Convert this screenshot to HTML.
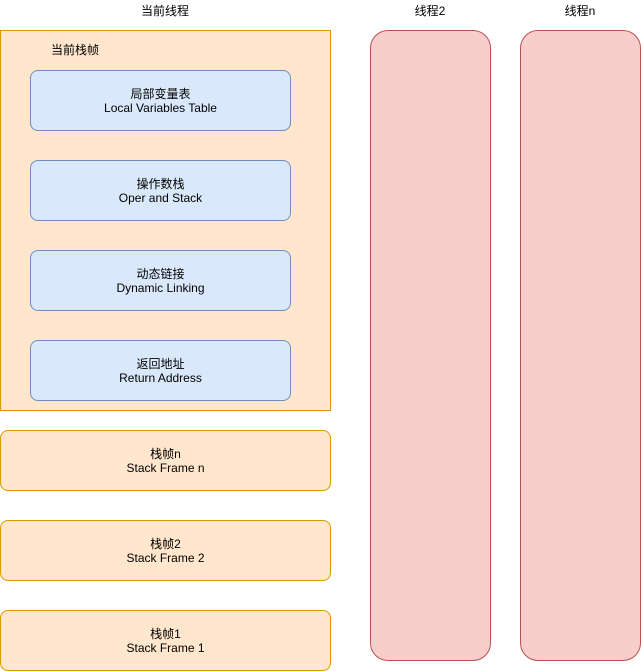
<!DOCTYPE html>
<html><head><meta charset="utf-8"><style>
html,body{margin:0;padding:0;background:#fff;}
body{width:641px;height:671px;position:relative;overflow:hidden;font-family:"Liberation Sans","Noto Sans CJK SC",sans-serif;font-size:12px;color:#000;}
.a{position:absolute;box-sizing:border-box;}
.t{position:absolute;text-align:center;line-height:14px;}
.box{display:flex;align-items:center;justify-content:center;text-align:center;line-height:14px;}
.blue{background:#dae8fc;border:1px solid #6c8ebf;border-radius:8px;}
.or{background:#ffe6cc;border:1px solid #d79b00;border-radius:8px;}
.red{background:#f8cecc;border:1px solid #b85450;border-radius:18px;}
</style></head><body>
<div class="t" style="left:115px;top:4px;width:100px;">当前线程</div>
<div class="t" style="left:380px;top:4px;width:100px;">线程2</div>
<div class="t" style="left:530px;top:4px;width:100px;">线程n</div>

<div class="a" style="left:0;top:30px;width:331px;height:381px;background:#ffe6cc;border:1px solid #d79b00;"></div>
<div class="t" style="left:40px;top:43px;width:70px;">当前栈帧</div>

<div class="a box blue" style="left:30px;top:70px;width:261px;height:61px;">局部变量表<br>Local Variables Table</div>
<div class="a box blue" style="left:30px;top:160px;width:261px;height:61px;">操作数栈<br>Oper and Stack</div>
<div class="a box blue" style="left:30px;top:250px;width:261px;height:61px;">动态链接<br>Dynamic Linking</div>
<div class="a box blue" style="left:30px;top:340px;width:261px;height:61px;">返回地址<br>Return Address</div>

<div class="a box or" style="left:0;top:430px;width:331px;height:61px;">栈帧n<br>Stack Frame n</div>
<div class="a box or" style="left:0;top:520px;width:331px;height:61px;">栈帧2<br>Stack Frame 2</div>
<div class="a box or" style="left:0;top:610px;width:331px;height:61px;">栈帧1<br>Stack Frame 1</div>

<div class="a red" style="left:370px;top:30px;width:121px;height:631px;"></div>
<div class="a red" style="left:520px;top:30px;width:121px;height:631px;"></div>
</body></html>
